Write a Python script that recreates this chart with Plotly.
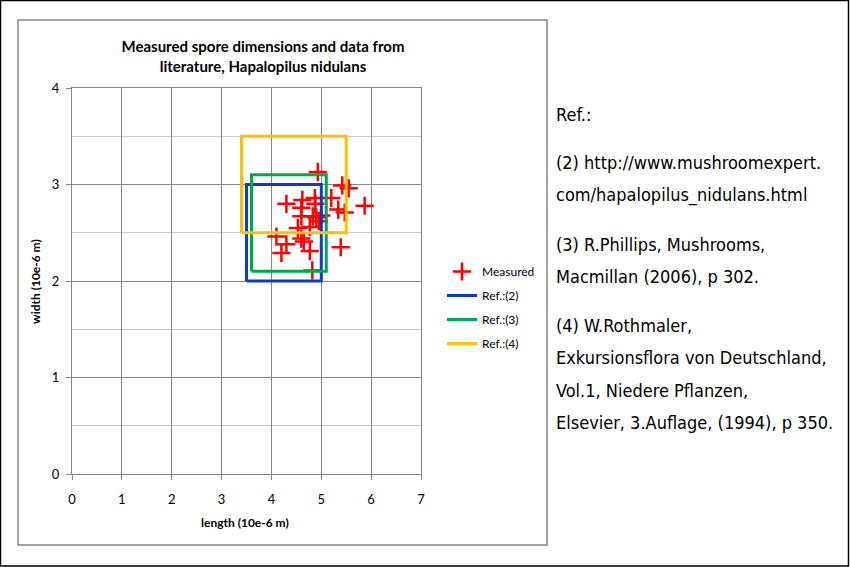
import plotly.graph_objects as go

# ---- data ----
measured_length = [4.93, 5.42, 5.55, 4.30, 4.62, 4.60, 4.87, 4.88, 5.20, 5.87, 5.34, 5.47,
                   4.60, 4.83, 4.90, 5.00, 4.95, 4.53, 4.77, 4.10, 4.60, 4.65, 4.30, 4.20,
                   4.77, 5.39, 4.82]
measured_width = [3.13, 2.99, 2.96, 2.80, 2.84, 2.76, 2.86, 2.80, 2.86, 2.78, 2.74, 2.71,
                  2.67, 2.67, 2.66, 2.68, 2.62, 2.55, 2.56, 2.46, 2.44, 2.41, 2.38, 2.29,
                  2.31, 2.35, 2.11]

ref_names = ["Ref.:(2)", "Ref.:(3)", "Ref.:(4)"]
ref_length_min = [3.5, 3.6, 3.4]
ref_length_max = [5.0, 5.1, 5.5]
ref_width_min = [2.0, 2.1, 2.5]
ref_width_max = [3.0, 3.1, 3.5]
ref_colors = ["#0A3CC8", "#00A651", "#FFC000"]

ref_text_lines = [
    "Ref.:",
    "(2) http://www.mushroomexpert.",
    "com/hapalopilus_nidulans.html",
    "(3) R.Phillips, Mushrooms,",
    "Macmillan (2006), p 302.",
    "(4) W.Rothmaler,",
    "Exkursionsflora von Deutschland,",
    "Vol.1, Niedere Pflanzen,",
    "Elsevier, 3.Auflage, (1994), p 350.",
]
ref_text_rows = [0, 1.5, 2.5, 4, 5, 6.5, 7.5, 8.5, 9.5]

# ---- geometry (pixels) ----
W, H = 850, 567
L, R, T, B = 72, 421, 88, 474
pw, ph = R - L, B - T


def px(x):
    return (x - L) / pw


def py(y):
    return (B - y) / ph


CHART_FONT = "Lato, Calibri, sans-serif"

fig = go.Figure()
fig.add_trace(go.Scatter(
    x=measured_length, y=measured_width, mode="markers", name="Measured",
    legendgroup="m",
    marker=dict(symbol="cross-thin", size=13, color="#FF0000",
                line=dict(color="#FF0000", width=2.5)),
))
for i, name in enumerate(ref_names):
    x0, x1 = ref_length_min[i], ref_length_max[i]
    y0, y1 = ref_width_min[i], ref_width_max[i]
    fig.add_trace(go.Scatter(
        x=[x0, x1, x1, x0, x0], y=[y0, y0, y1, y1, y0], mode="lines", name=name,
        legendgroup=name,
        line=dict(color=ref_colors[i], width=3),
    ))

axis_common = dict(
    showline=True, linecolor="#868686", linewidth=1, mirror=True,
    showgrid=True, gridcolor="#868686", gridwidth=1,
    ticks="outside", ticklen=5, tickcolor="#868686",
    tickfont=dict(family=CHART_FONT, size=13, color="#000000"),
    zeroline=False, fixedrange=True,
)
fig.update_xaxes(range=[0, 7], dtick=1, tick0=0, ticklabelstandoff=8, **axis_common)
fig.update_yaxes(range=[0, 4], dtick=1, tick0=0, ticklabelstandoff=4,
                 minor=dict(dtick=0.5, showgrid=True, gridcolor="#C8C8C8", ticks=""),
                 **axis_common)

annotations = [
    dict(text="<b>length (10e-6 m)</b>", x=px(245), y=py(522), xref="paper", yref="paper",
         showarrow=False, font=dict(family=CHART_FONT, size=12, color="#000"),
         xanchor="center", yanchor="middle"),
    dict(text="<b>width (10e-6 m)</b>", x=px(35), y=py(282), xref="paper", yref="paper",
         showarrow=False, textangle=-90, font=dict(family=CHART_FONT, size=12, color="#000"),
         xanchor="center", yanchor="middle"),
]
line_h = 32.5
for row, txt in zip(ref_text_rows, ref_text_lines):
    ypix = 114 + row * line_h
    annotations.append(dict(
        text=txt, x=px(554), y=py(ypix), xref="paper", yref="paper", showarrow=False,
        xanchor="left", yanchor="middle",
        font=dict(family="DejaVu Sans Condensed, DejaVu Sans", size=18, color="#000"),
    ))

shapes = [
    dict(type="rect", xref="paper", yref="paper", x0=px(18), x1=px(547), y0=py(20), y1=py(545),
         line=dict(color="#868686", width=1.5), layer="below"),
    dict(type="rect", xref="paper", yref="paper", x0=px(0.5), x1=px(848.5), y0=py(0.5), y1=py(566),
         line=dict(color="#000000", width=1.5), layer="below"),
]

fig.update_layout(
    width=W, height=H,
    margin=dict(l=L, r=W - R, t=T, b=H - B),
    paper_bgcolor="white", plot_bgcolor="white",
    title=dict(text="<b>Measured spore dimensions and data from<br>literature, Hapalopilus nidulans</b>",
               x=263 / W, xanchor="center", y=1 - 52 / H, yanchor="middle",
               font=dict(family=CHART_FONT, size=15, color="#000")),
    legend=dict(x=px(442), y=py(257), xanchor="left", yanchor="top",
                font=dict(family=CHART_FONT, size=12, color="#000"),
                itemwidth=30, tracegroupgap=5, bgcolor="rgba(0,0,0,0)"),
    showlegend=True,
    annotations=annotations,
    shapes=shapes,
)

fig.write_html("out.html")
